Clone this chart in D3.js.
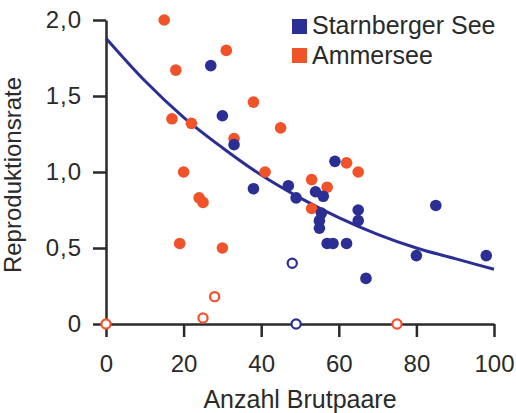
<!DOCTYPE html>
<html>
<head>
<meta charset="utf-8">
<script src="https://cdn.jsdelivr.net/npm/d3@7"></script>
<style>
  html, body { margin: 0; padding: 0; background: #fff; }
  svg { display: block; }
  text { font-family: "Liberation Sans", Arial, Helvetica, sans-serif; fill: #2a2a2a; }
</style>
</head>
<body>
<svg id="chart" width="516" height="413"></svg>
<script>
// Starnberger See – filled points [Anzahl Brutpaare, Reproduktionsrate]
const starnbergX = [27, 30, 33, 38, 47, 49, 59, 54, 56, 55.5, 55, 55, 57, 58.5, 62, 65, 65, 67, 80, 85, 98];
const starnbergY = [1.70, 1.37, 1.18, 0.89, 0.91, 0.83, 1.07, 0.87, 0.84, 0.73, 0.68, 0.63, 0.53, 0.53, 0.53, 0.75, 0.68, 0.30, 0.45, 0.78, 0.45];
// Starnberger See – open points
const starnbergOpenX = [48, 49];
const starnbergOpenY = [0.40, 0];

// Ammersee – filled points
const ammerX = [15, 31, 18, 38, 17, 22, 45, 33, 20, 41, 24, 25, 19, 30, 53, 57, 53, 62, 65];
const ammerY = [2.00, 1.80, 1.67, 1.46, 1.35, 1.32, 1.29, 1.22, 1.00, 1.00, 0.83, 0.80, 0.53, 0.50, 0.95, 0.90, 0.76, 1.06, 1.00];
// Ammersee – open points
const ammerOpenX = [0, 25, 28, 75];
const ammerOpenY = [0, 0.04, 0.18, 0];

// Fitted curve
const curveX = [0, 10, 20, 30, 40, 50, 60, 70, 80, 90, 100];
const curveY = [1.88, 1.60, 1.36, 1.16, 0.98, 0.83, 0.70, 0.59, 0.50, 0.43, 0.36];

const xTicks = [0, 20, 40, 60, 80, 100];
const xTickLabels = ["0", "20", "40", "60", "80", "100"];
const yTicks = [0, 0.5, 1.0, 1.5, 2.0];
const yTickLabels = ["0", "0,5", "1,0", "1,5", "2,0"];

const seriesNames = ["Starnberger See", "Ammersee"];
const colors = { blue: "#2b2e93", orange: "#f0522a", axis: "#2a2a2a" };

const svg = d3.select("#chart");
const x = d3.scaleLinear().domain([0, 100]).range([106, 494]);
const y = d3.scaleLinear().domain([0, 2]).range([324, 20]);

// Axes
const yAxis = d3.axisLeft(y).tickValues(yTicks).tickSize(13).tickSizeOuter(0)
  .tickPadding(11).tickFormat((d, i) => yTickLabels[i]);
const xAxis = d3.axisBottom(x).tickValues(xTicks).tickSize(13).tickSizeOuter(0)
  .tickPadding(18).tickFormat((d, i) => xTickLabels[i]);

const gy = svg.append("g").attr("transform", `translate(${x(0)},0)`).call(yAxis);
const gx = svg.append("g").attr("transform", `translate(0,${y(0)})`).call(xAxis);
[gy, gx].forEach(g => {
  g.selectAll("path.domain").attr("stroke", colors.axis).attr("stroke-width", 2.5);
  g.selectAll(".tick line").attr("stroke", colors.axis).attr("stroke-width", 2.5);
  g.selectAll(".tick text").attr("font-size", 24).attr("fill", colors.axis)
    .style("font-family", '"Liberation Sans", Arial, sans-serif');
});
gy.selectAll(".tick text").attr("letter-spacing", 1);

// Axis titles
svg.append("text").attr("x", 300).attr("y", 408).attr("text-anchor", "middle")
  .attr("font-size", 25).text("Anzahl Brutpaare");
svg.append("text").attr("transform", "translate(21,175) rotate(-90)")
  .attr("text-anchor", "middle").attr("font-size", 24).text("Reproduktionsrate");

// Curve
const line = d3.line().x(d => x(d[0])).y(d => y(d[1])).curve(d3.curveMonotoneX);
svg.append("path").datum(d3.zip(curveX, curveY)).attr("d", line)
  .attr("fill", "none").attr("stroke", colors.blue).attr("stroke-width", 3);

// Points
function drawFilled(xs, ys, color) {
  svg.append("g").selectAll("circle").data(d3.zip(xs, ys)).join("circle")
    .attr("cx", d => x(d[0])).attr("cy", d => y(d[1])).attr("r", 5.8)
    .attr("fill", color);
}
function drawOpen(xs, ys, color) {
  svg.append("g").selectAll("circle").data(d3.zip(xs, ys)).join("circle")
    .attr("cx", d => x(d[0])).attr("cy", d => y(d[1])).attr("r", 4.6)
    .attr("fill", "#fff").attr("stroke", color).attr("stroke-width", 2.2);
}
drawFilled(ammerX, ammerY, colors.orange);
drawFilled(starnbergX, starnbergY, colors.blue);
drawOpen(ammerOpenX, ammerOpenY, colors.orange);
drawOpen(starnbergOpenX, starnbergOpenY, colors.blue);

// Legend
const legend = svg.append("g");
[colors.blue, colors.orange].forEach((c, i) => {
  legend.append("rect").attr("x", 292).attr("y", 19 + i * 29).attr("width", 15).attr("height", 15).attr("fill", c);
  legend.append("text").attr("x", 312).attr("y", 34 + i * 30).attr("font-size", 25)
    .text(seriesNames[i]);
});
</script>
</body>
</html>
